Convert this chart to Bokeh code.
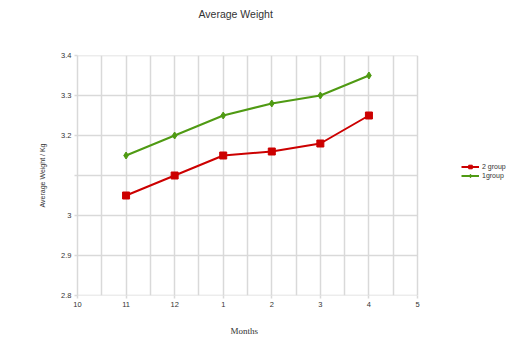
from bokeh.plotting import figure
from bokeh.models import FixedTicker, Range1d, Legend, LegendItem, Title
from bokeh.embed import file_html
from bokeh.resources import INLINE

months = ["10", "11", "12", "1", "2", "3", "4", "5"]
data_months = ["11", "12", "1", "2", "3", "4"]
group2 = [3.05, 3.10, 3.15, 3.16, 3.18, 3.25]
group1 = [3.15, 3.20, 3.25, 3.28, 3.30, 3.35]
y_ticks = [2.8, 2.9, 3.0, 3.1, 3.2, 3.3, 3.4]
y_labels = ["2.8", "2.9", "3", "", "3.2", "3.3", "3.4"]

xpos = [months.index(m) for m in data_months]
x_last = len(months) - 1

# frame spans x 77..507 px; the chart grid only covers 77..417 px (months 10..5)
x_end = x_last * 430 / 340

FONT = "Liberation Sans"

p = figure(width=512, height=351, output_backend="svg", toolbar_location=None,
           x_range=Range1d(0, x_end), y_range=Range1d(2.8, 3.4),
           min_border_left=77, min_border_right=5, min_border_top=54, min_border_bottom=56)
p.outline_line_color = None
p.background_fill_color = "white"

# spacer between frame and title, then the title itself
p.add_layout(Title(text=" ", text_font_size="1px", standoff=28), "above")
p.add_layout(Title(text="Average Weight", align="left", offset=121, standoff=10,
                   text_font=FONT, text_font_size="10.5px", text_font_style="normal",
                   text_color="#333333"), "above")

grid_col = "#d9d9d9"
p.xaxis.ticker = FixedTicker(ticks=list(range(len(months))))
p.xaxis.major_label_overrides = {i: m for i, m in enumerate(months)}
p.xgrid.ticker = FixedTicker(ticks=[i * 0.5 for i in range(2 * x_last + 1)])
p.xgrid.grid_line_color = grid_col
p.xgrid.grid_line_width = 1.5
p.yaxis.ticker = FixedTicker(ticks=y_ticks)
p.yaxis.major_label_overrides = {t: l for t, l in zip(y_ticks, y_labels)}
p.ygrid.visible = False
p.segment(x0=0, x1=x_last, y0=y_ticks, y1=y_ticks, line_color=grid_col, line_width=1.5)

for ax in (p.xaxis, p.yaxis):
    ax.axis_line_color = None
    ax.major_tick_line_color = grid_col
    ax.major_tick_line_width = 1.5
    ax.major_tick_in = 0
    ax.major_tick_out = 3
    ax.minor_tick_line_color = None
    ax.major_label_text_font = FONT
    ax.major_label_text_font_size = "7.5px"
    ax.major_label_text_color = "#333333"
    ax.major_label_standoff = 3
p.yaxis.axis_line_color = grid_col
p.yaxis.axis_line_width = 1.5

p.yaxis.axis_label = "Average Weight / Kg"
p.yaxis.axis_label_text_font = FONT
p.yaxis.axis_label_text_font_size = "7px"
p.yaxis.axis_label_text_font_style = "normal"
p.yaxis.axis_label_text_color = "#333333"
p.yaxis.axis_label_standoff = 12

xt = Title(text="Months", align="left", offset=153, text_font="Liberation Serif",
           text_font_size="9px", text_font_style="normal", text_color="#333333",
           standoff=30, vertical_align="middle")
p.add_layout(xt, "below")

red = "#cc0000"
green = "#4f9a13"
l2 = p.line(xpos, group2, line_color=red, line_width=2)
m2 = p.scatter(xpos, group2, marker="square", size=7, fill_color=red, line_color=red)
l1 = p.line(xpos, group1, line_color=green, line_width=2)
m1 = p.scatter(xpos, group1, marker="diamond", size=7, fill_color=green, line_color=green)

legend = Legend(items=[LegendItem(label="2 group", renderers=[l2, m2]),
                       LegendItem(label="1group", renderers=[l1, m1])],
                location=(384, 115), background_fill_alpha=0, border_line_color=None,
                label_text_font=FONT, label_text_font_size="7px",
                label_text_color="#333333", glyph_width=18, glyph_height=9,
                label_height=9, spacing=0, padding=0, margin=0, label_standoff=3)
p.add_layout(legend)

open("out.html", "w").write(file_html(p, INLINE))
